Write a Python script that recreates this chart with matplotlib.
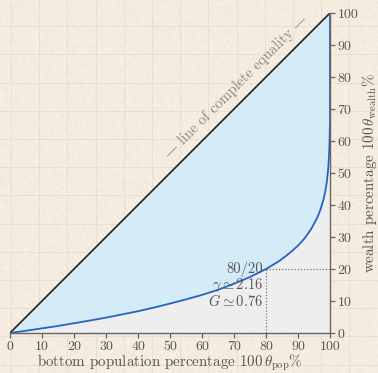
import numpy as np
import matplotlib
matplotlib.use("Agg")
import matplotlib.pyplot as plt

plt.rcParams["mathtext.fontset"] = "cm"
plt.rcParams["font.family"] = ["cmr10", "DejaVu Serif"]
plt.rcParams["axes.formatter.use_mathtext"] = True

# Lorenz curve: cumulative share of wealth held by the bottom share of the population
pop_pct = [0, 5, 10, 15, 20, 25, 30, 35, 40, 45, 50, 55, 60, 65, 70, 75, 80,
           82, 84, 86, 88, 90, 92, 94, 96, 97, 98, 98.5, 99, 99.5, 99.8, 99.9, 100, 100]
wealth_pct = [0, 0.7, 1.45, 2.2, 3.05, 3.9, 4.8, 5.8, 6.8, 7.95, 9.2, 10.5, 11.9, 13.5,
              15.4, 17.5, 20.0, 21.2, 22.4, 23.9, 25.5, 27.3, 29.5, 32.3, 36.0, 38.5,
              41.8, 44.1, 47.2, 52.0, 57.7, 61.6, 66.0, 100]
ticks = [0, 10, 20, 30, 40, 50, 60, 70, 80, 90, 100]
rule_pop, rule_wealth = 80, 20
stats_text = ["80/20", r"$\gamma \simeq 2.16$", r"$G \simeq 0.76$"]

W, H = 378, 373
fig = plt.figure(figsize=(W / 100, H / 100), dpi=100)
paper = "#fbf1e3"
fig.patch.set_facecolor(paper)

# paper background with a faint grid and grain
bg = fig.add_axes([0, 0, 1, 1], zorder=-10)
bg.set_xlim(0, W)
bg.set_ylim(H, 0)
bg.axis("off")
rng = np.random.default_rng(3)
grain = rng.normal(0, 1, (H // 2, W // 2))
bg.imshow(grain, extent=[0, W, H, 0], cmap="Greys", alpha=0.06,
          interpolation="bilinear", aspect="auto")
step = 28.2
for gx in np.arange(11, W, step):
    bg.axvline(gx, color="#e3d6c2", lw=0.7, alpha=0.6)
for gy in np.arange(-2, H, step):
    bg.axhline(gy, color="#e3d6c2", lw=0.7, alpha=0.6)

ax = fig.add_axes([10 / W, 1 - 333 / H, 320 / W, 320 / H])
ax.set_facecolor("none")
ax.set_xlim(0, 100)
ax.set_ylim(0, 100)

x = np.array(pop_pct)
y = np.array(wealth_pct)
ax.fill_between(x, y, x, color="#d4ecf8", lw=0, zorder=1)
ax.fill_between(x, 0, y, color="#eeeeee", lw=0, zorder=1)
ax.plot([0, 100], [0, 100], color="#222222", lw=1.2, zorder=3)
ax.plot(x, y, color="#2563c4", lw=1.3, zorder=4)

ax.plot([rule_pop, rule_pop], [0, rule_wealth], color="#777777", lw=0.9, ls=(0, (1, 1.5)), zorder=2)
ax.plot([rule_pop, 100], [rule_wealth, rule_wealth], color="#777777", lw=0.9, ls=(0, (1, 1.5)), zorder=2)

txtc = "#555555"
for i, s in enumerate(stats_text):
    ax.text(79, 20 - 5 * i, s, ha="right", va="center", fontsize=10.5, color=txtc, zorder=5)

ax.text(70.6, 76.9, "— line of complete equality —", rotation=45, rotation_mode="anchor",
        ha="center", va="center", fontsize=10.5, color="#888888")

for side in ("top", "left"):
    ax.spines[side].set_visible(False)
for side in ("right", "bottom"):
    ax.spines[side].set_color("#666666")
    ax.spines[side].set_linewidth(1.0)
    ax.spines[side].set_zorder(6)

ax.yaxis.tick_right()
ax.yaxis.set_label_position("right")
ax.set_xticks(ticks)
ax.set_yticks(ticks)
ax.set_xticklabels([str(t) for t in ticks])
ax.set_yticklabels([str(t) for t in ticks])
ax.tick_params(axis="both", direction="out", length=3.5, width=0.9, color="#666666",
               labelcolor=txtc, labelsize=10, pad=2)
ax.set_xlabel(r"bottom population percentage $100\,\theta_{\mathrm{pop}}$%", fontsize=10.8,
              color=txtc, labelpad=0)
ax.set_ylabel(r"wealth percentage $100\,\theta_{\mathrm{wealth}}$%", fontsize=10.8,
              color=txtc, labelpad=1)

fig.savefig("out.png", dpi=100, facecolor=paper)
